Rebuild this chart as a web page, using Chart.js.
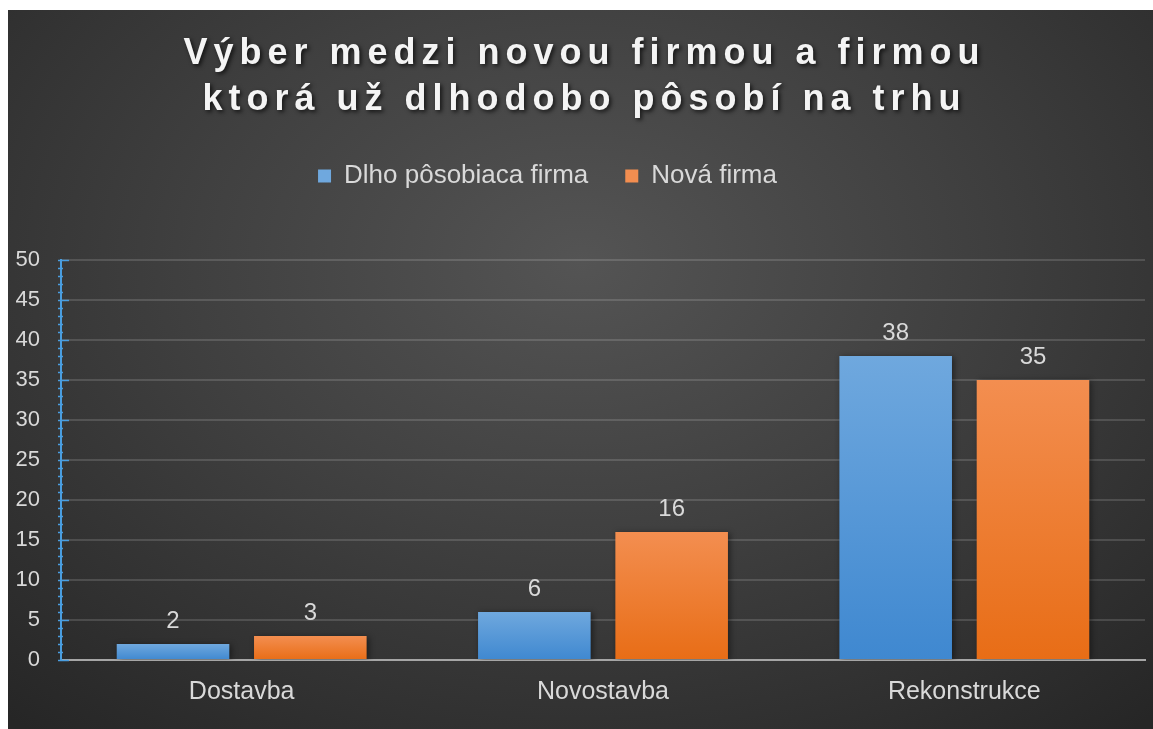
<!DOCTYPE html>
<html lang="sk">
<head>
<meta charset="utf-8">
<title>Výber medzi novou firmou a firmou</title>
<script src="https://cdn.jsdelivr.net/npm/chart.js"></script>
<style>
  html, body { margin: 0; padding: 0; background: #fff; }
  #wrap {
    position: absolute; left: 8px; top: 10px; width: 1145px; height: 719px;
    background: radial-gradient(ellipse 75% 85% at 50% 35%, #545454 0%, #404040 45%, #262626 100%);
  }
</style>
</head>
<body>
<div id="wrap"><canvas id="firmyChart"></canvas></div>
<script>
// Dáta z grafu
const kategorie = ["Dostavba", "Novostavba", "Rekonstrukce"];
const dlhoPosobiaca = [2, 6, 38];
const novaFirma = [3, 16, 35];
const nazvySerii = ["Dlho pôsobiaca firma", "Nová firma"];
const nadpis = ["Výber medzi novou firmou a firmou", "ktorá už dlhodobo pôsobí na trhu"];
const osY = { min: 0, max: 50, krok: 5 };

const FONT = "'Liberation Sans', Arial, sans-serif";
const svetloSeda = "#d9d9d9";
const modraOs = "#4a9ee0";

Chart.defaults.font.family = FONT;
Chart.defaults.color = svetloSeda;

// gradient pre každý stĺpec zvlášť (hore svetlejší)
function gradient(ctx, hore, dole, plna) {
	const chart = ctx.chart;
	if (ctx.type !== "data" || !chart.chartArea) return plna;
	const y = chart.scales.y;
	const top = y.getPixelForValue(ctx.raw);
	const bottom = y.getPixelForValue(0);
	if (bottom - top < 1) return plna;
	const g = chart.ctx.createLinearGradient(0, top, 0, bottom);
	g.addColorStop(0, hore);
	g.addColorStop(1, dole);
	return g;
}

const upravy = {
	id: "upravy",
	beforeLayout(chart) {
		// medzera pod legendou
		const lg = chart.legend;
		if (lg && !lg._upravena) {
			const fit = lg.fit;
			lg.fit = function () {
				fit.apply(this, arguments);
				this.height += 61;
			};
			lg._upravena = true;
		}
	},
	afterLayout(chart) {
		if (chart.legend) chart.legend.right -= 58;
	},
	beforeDraw(chart) {
		// riedke písmo a tieň nadpisu
		const t = chart.titleBlock;
		if (t && !t._upraveny) {
			const draw = t.draw;
			t.draw = function () {
				const c = this.ctx;
				c.save();
				c.translate(8, 0);
				c.letterSpacing = "6px";
				c.shadowColor = "rgba(0,0,0,0.7)";
				c.shadowBlur = 4;
				c.shadowOffsetX = 2;
				c.shadowOffsetY = 2;
				draw.apply(this, arguments);
				c.restore();
			};
			t._upraveny = true;
		}
	},
	beforeDatasetsDraw(chart) {
		const c = chart.ctx;
		c.save();
		c.shadowColor = "rgba(0,0,0,0.45)";
		c.shadowBlur = 6;
		c.shadowOffsetX = 2;
		c.shadowOffsetY = 1;
	},
	afterDatasetsDraw(chart) {
		const c = chart.ctx;
		c.restore();
		// hodnoty nad stĺpcami
		c.save();
		c.font = "24px " + FONT;
		c.fillStyle = svetloSeda;
		c.textAlign = "center";
		c.textBaseline = "alphabetic";
		chart.data.datasets.forEach((ds, i) => {
			chart.getDatasetMeta(i).data.forEach((bar, j) => {
				c.fillText(String(ds.data[j]), bar.x, bar.y - 16);
			});
		});
		c.restore();
	},
	afterDraw(chart) {
		// hlavné a vedľajšie značky na osi Y
		const y = chart.scales.y;
		const c = chart.ctx;
		const x0 = chart.chartArea.left;
		c.save();
		c.strokeStyle = modraOs;
		c.lineWidth = 1.5;
		for (let v = osY.min; v <= osY.max; v++) {
			const py = Math.round(y.getPixelForValue(v)) + 0.5;
			const hlavna = v % osY.krok === 0;
			c.beginPath();
			c.moveTo(x0 - 3, py);
			c.lineTo(x0 + (hlavna ? 8 : 2), py);
			c.stroke();
		}
		c.restore();
	},
};

const ctx = document.getElementById("firmyChart").getContext("2d");
new Chart(ctx, {
	type: "bar",
	data: {
		labels: kategorie,
		datasets: [
			{
				label: nazvySerii[0],
				data: dlhoPosobiaca,
				backgroundColor: (c) => gradient(c, "#6fa8de", "#3f88d0", "#4a9ee8"),
			},
			{
				label: nazvySerii[1],
				data: novaFirma,
				backgroundColor: (c) => gradient(c, "#f38e50", "#e86d16", "#f07a2a"),
			},
		],
	},
	options: {
		responsive: true,
		maintainAspectRatio: false,
		animation: false,
		categoryPercentage: 0.76,
		barPercentage: 0.82,
		layout: { padding: { top: 0, right: 8, bottom: 0, left: 0 } },
		plugins: {
			title: {
				display: true,
				text: nadpis,
				color: "#f4f4f4",
				font: { size: 36, weight: "bold", lineHeight: "46px" },
				padding: { top: 21, bottom: 3 },
			},
			legend: {
				display: true,
				labels: {
					color: svetloSeda,
					font: { size: 26 },
					boxWidth: 13,
					boxHeight: 13,
					padding: 37,
				},
			},
			tooltip: { enabled: false },
		},
		scales: {
			x: {
				grid: { display: false, drawTicks: false },
				border: { display: true, color: "#a6a6a6", width: 2 },
				ticks: { color: svetloSeda, font: { size: 25 }, padding: 17 },
				afterFit: (s) => { s.height = 69; },
			},
			y: {
				min: osY.min,
				max: osY.max,
				grid: { color: "rgba(255,255,255,0.14)", lineWidth: 2, drawTicks: false },
				border: { display: true, color: modraOs, width: 2 },
				ticks: { stepSize: osY.krok, color: svetloSeda, font: { size: 22 }, padding: 21 },
				afterFit: (s) => { s.width = 53; },
			},
		},
	},
	plugins: [upravy],
});
</script>
</body>
</html>
